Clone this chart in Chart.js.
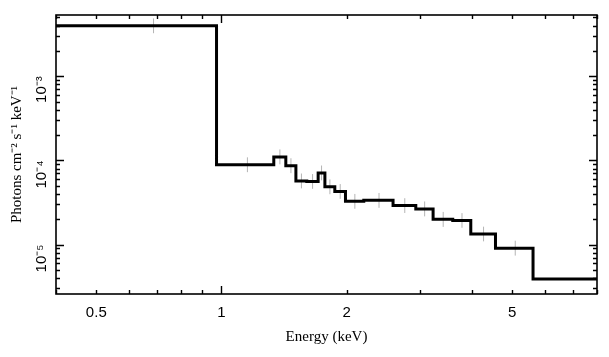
<!DOCTYPE html>
<html><head><meta charset="utf-8">
<script src="https://cdn.jsdelivr.net/npm/chart.js@4/dist/chart.umd.min.js"></script>
<style>html,body{margin:0;padding:0;background:#fff}#wrap{width:609px;height:357px;position:relative}</style>
</head><body><div id="wrap"><canvas id="c"></canvas></div>
<script>
// Bin edges (keV) of the grouped spectrum
const binEdges = [0.40, 0.973, 1.336, 1.428, 1.510, 1.604, 1.708, 1.773, 1.873, 1.987, 2.199, 2.586, 2.933, 3.228, 3.599, 3.977, 4.560, 5.614, 10.5];
// Flux per bin (photons cm^-2 s^-1 keV^-1)
const fluxValues = [3.98e-3, 8.87e-5, 1.10e-4, 8.63e-5, 5.70e-5, 5.62e-5, 7.09e-5, 4.85e-5, 4.27e-5, 3.26e-5, 3.35e-5, 2.90e-5, 2.65e-5, 1.99e-5, 1.93e-5, 1.33e-5, 9.04e-6, 3.90e-6];
// Error bar lower / upper ends
const errLow  = [3.25e-3, 7.24e-5, 8.98e-5, 7.05e-5, 4.65e-5, 4.59e-5, 5.79e-5, 3.96e-5, 3.49e-5, 2.66e-5, 2.73e-5, 2.37e-5, 2.16e-5, 1.62e-5, 1.58e-5, 1.09e-5, 7.38e-6, 3.20e-6];
const errHigh = [4.87e-3, 1.087e-4, 1.35e-4, 1.06e-4, 6.98e-5, 6.88e-5, 8.69e-5, 5.94e-5, 5.23e-5, 3.99e-5, 4.10e-5, 3.55e-5, 3.25e-5, 2.44e-5, 2.36e-5, 1.63e-5, 1.11e-5, 4.75e-6];
// Axis ticks
const xTickValues = [0.5, 1, 2, 5];
const xTickLabels = ['0.5', '1', '2', '5'];
const yTickValues = [1e-3, 1e-4, 1e-5];
const yTickLabels = ['10\u207B\u00B3', '10\u207B\u2074', '10\u207B\u2075'];
const xRange = [0.4, 8.0];
const yRange = [2.58e-6, 5.35e-3];

// step line points
const stepPts = binEdges.slice(0, -1).map((e, i) => ({x: e, y: fluxValues[i]}));
stepPts.push({x: binEdges[binEdges.length - 1], y: fluxValues[fluxValues.length - 1]});
// error bar segments at bin centres
const errPts = [];
fluxValues.forEach((v, i) => {
  const c = (binEdges[i] + binEdges[i + 1]) / 2;
  errPts.push({x: c, y: errLow[i]}, {x: c, y: errHigh[i]}, {x: c, y: null});
});

const framePlugin = {
  id: 'frame',
  afterDatasetsDraw(chart) {
    const {ctx, chartArea: a, scales: {x, y}} = chart;
    ctx.save();
    ctx.strokeStyle = '#000';
    ctx.lineWidth = 1.6;
    ctx.strokeRect(a.left, a.top, a.right - a.left, a.bottom - a.top);
    ctx.lineWidth = 1.4;
    ctx.beginPath();
    for (let d = -1; d <= 1; d++) for (let m = 1; m <= 9; m++) {
      const v = m * Math.pow(10, d);
      if (v < xRange[0] || v > xRange[1]) continue;
      const px = Math.round(x.getPixelForValue(v)) + 0.5;
      const len = m === 1 ? 8 : 4;
      ctx.moveTo(px, a.bottom); ctx.lineTo(px, a.bottom - len);
      ctx.moveTo(px, a.top); ctx.lineTo(px, a.top + len);
    }
    for (let d = -6; d <= -2; d++) for (let m = 1; m <= 9; m++) {
      const v = m * Math.pow(10, d);
      if (v < yRange[0] || v > yRange[1]) continue;
      const py = Math.round(y.getPixelForValue(v)) + 0.5;
      const len = m === 1 ? 8 : 4;
      ctx.moveTo(a.left, py); ctx.lineTo(a.left + len, py);
      ctx.moveTo(a.right, py); ctx.lineTo(a.right - len, py);
    }
    ctx.stroke();
    ctx.restore();
  }
};

new Chart(document.getElementById('c'), {
  type: 'line',
  data: {
    datasets: [
      {data: errPts, borderColor: '#b4b4b4', borderWidth: 1, pointRadius: 0, spanGaps: false, fill: false, order: 2},
      {data: stepPts, borderColor: '#000', borderWidth: 3, stepped: 'before', pointRadius: 0, fill: false, order: 1}
    ]
  },
  options: {
    responsive: true, maintainAspectRatio: false, animation: false,
    layout: {padding: {top: 12, right: 12, left: 0, bottom: 0}},
    plugins: {legend: {display: false}, tooltip: {enabled: false}},
    scales: {
      x: {
        type: 'logarithmic', min: xRange[0], max: xRange[1],
        grid: {display: false}, border: {display: false},
        afterBuildTicks: s => { s.ticks = xTickValues.map(v => ({value: v})); },
        afterFit: s => { s.height = 63; },
        ticks: {
          autoSkip: false, maxRotation: 0, minRotation: 0, padding: 2, color: '#000',
          font: {family: 'Liberation Sans', size: 15},
          callback: (v) => { const i = xTickValues.indexOf(v); return i >= 0 ? xTickLabels[i] : ''; }
        },
        title: {display: true, text: 'Energy (keV)', color: '#000',
          font: {family: 'Liberation Serif', size: 15}, padding: {top: 0, bottom: 11}}
      },
      y: {
        type: 'logarithmic', min: yRange[0], max: yRange[1],
        grid: {display: false}, border: {display: false},
        afterBuildTicks: s => { s.ticks = yTickValues.map(v => ({value: v})); },
        afterFit: s => { s.width = 56; },
        ticks: {
          autoSkip: false, minRotation: 90, maxRotation: 90, padding: 6, color: '#000',
          font: {family: 'Liberation Sans', size: 15},
          callback: (v) => { const i = yTickValues.findIndex(t => Math.abs(t - v) / t < 1e-6); return i >= 0 ? yTickLabels[i] : ''; }
        },
        title: {display: true, text: 'Photons cm\u207B\u00B2 s\u207B\u00B9 keV\u207B\u00B9', color: '#000',
          font: {family: 'Liberation Serif', size: 15}, padding: {top: 8, bottom: 0}}
      }
    }
  },
  plugins: [framePlugin]
});
</script></body></html>
